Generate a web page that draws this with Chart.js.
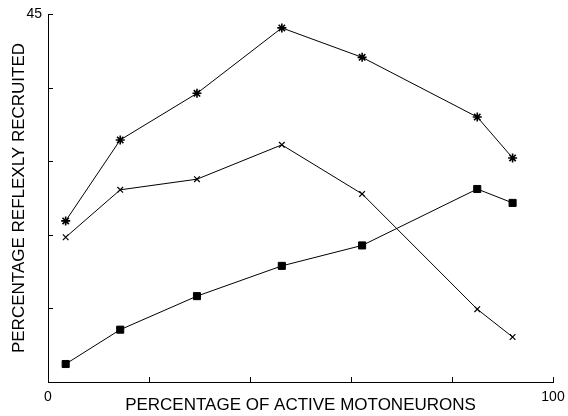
<!DOCTYPE html>
<html>
<head>
<meta charset="utf-8">
<script src="https://cdn.jsdelivr.net/npm/chart.js@4.4.1/dist/chart.umd.min.js"></script>
<style>
  html, body { margin: 0; padding: 0; background: #fff; }
  #wrap { width: 568px; height: 416px; }
</style>
</head>
<body>
<div id="wrap"><canvas id="chart"></canvas></div>
<script>
// Data
const activeMotoneurons = [3.5, 14.3, 29.5, 46.3, 62.2, 85, 92];
const seriesStar = [19.7, 29.6, 35.3, 43.3, 39.7, 32.4, 27.4];
const seriesCross = [17.7, 23.5, 24.8, 29.0, 23.0, 8.9, 5.5];
const seriesSquare = [2.2, 6.4, 10.5, 14.2, 16.7, 23.6, 21.9];
const xTickLabels = { 0: '0', 100: '100' };
const yTickLabels = { 45: '45' };

const toPoints = (ys) => ys.map((y, i) => ({ x: activeMotoneurons[i], y: y }));

// ticks drawn inward like the original plot
const inwardTicks = {
    id: 'inwardTicks',
    afterDraw(chart) {
        const ctx = chart.ctx;
        const xs = chart.scales.x, ys = chart.scales.y;
        const area = chart.chartArea;
        ctx.save();
        ctx.strokeStyle = '#000';
        ctx.lineWidth = 1;
        ctx.beginPath();
        xs.ticks.forEach(t => {
            const px = Math.round(xs.getPixelForValue(t.value)) + 0.5;
            ctx.moveTo(px, area.bottom);
            ctx.lineTo(px, area.bottom - 5);
        });
        ys.ticks.forEach(t => {
            const py = Math.round(ys.getPixelForValue(t.value)) + 0.5;
            ctx.moveTo(area.left, py);
            ctx.lineTo(area.left + 5, py);
        });
        ctx.stroke();
        ctx.restore();
    }
};

const lineStyle = {
    borderColor: '#000',
    backgroundColor: '#000',
    pointBorderColor: '#000',
    borderWidth: 1,
    tension: 0,
    fill: false
};

new Chart(document.getElementById('chart'), {
    type: 'scatter',
    data: {
        datasets: [
            Object.assign({ data: toPoints(seriesStar), showLine: true, pointStyle: 'star', pointRadius: 4.5, pointBorderWidth: 1.6 }, lineStyle),
            Object.assign({ data: toPoints(seriesCross), showLine: true, pointStyle: 'crossRot', pointRadius: 4, pointBorderWidth: 1.2 }, lineStyle),
            Object.assign({ data: toPoints(seriesSquare), showLine: true, pointStyle: 'rect', pointRadius: 5, pointBorderWidth: 1 }, lineStyle)
        ]
    },
    options: {
        responsive: true,
        maintainAspectRatio: false,
        animation: false,
        layout: { padding: { top: 14, right: 15, left: 0, bottom: 0 } },
        plugins: {
            legend: { display: false },
            tooltip: { enabled: false }
        },
        scales: {
            x: {
                type: 'linear',
                min: 0,
                max: 100,
                afterFit: s => { s.height = 34; },
                grid: { display: false },
                border: { display: true, color: '#000', width: 1 },
                ticks: {
                    stepSize: 20,
                    padding: -1,
                    color: '#000',
                    font: { family: 'Liberation Sans', size: 14 },
                    maxRotation: 0,
                    callback: v => xTickLabels[v] || ''
                },
                title: {
                    display: true,
                    text: 'PERCENTAGE OF ACTIVE MOTONEURONS',
                    color: '#000',
                    font: { family: 'Liberation Sans', size: 17 },
                    padding: { top: 0, bottom: 0 }
                }
            },
            y: {
                type: 'linear',
                min: 0,
                max: 45,
                afterFit: s => { s.width = 48; },
                grid: { display: false },
                border: { display: true, color: '#000', width: 1 },
                ticks: {
                    stepSize: 9,
                    padding: -2,
                    color: '#000',
                    font: { family: 'Liberation Sans', size: 14 },
                    callback: v => yTickLabels[v] || ''
                },
                title: {
                    display: true,
                    text: 'PERCENTAGE REFLEXLY RECRUITED',
                    color: '#000',
                    font: { family: 'Liberation Sans', size: 17 },
                    padding: { top: 9, bottom: 0 }
                }
            }
        }
    },
    plugins: [inwardTicks]
});
</script>
</body>
</html>
